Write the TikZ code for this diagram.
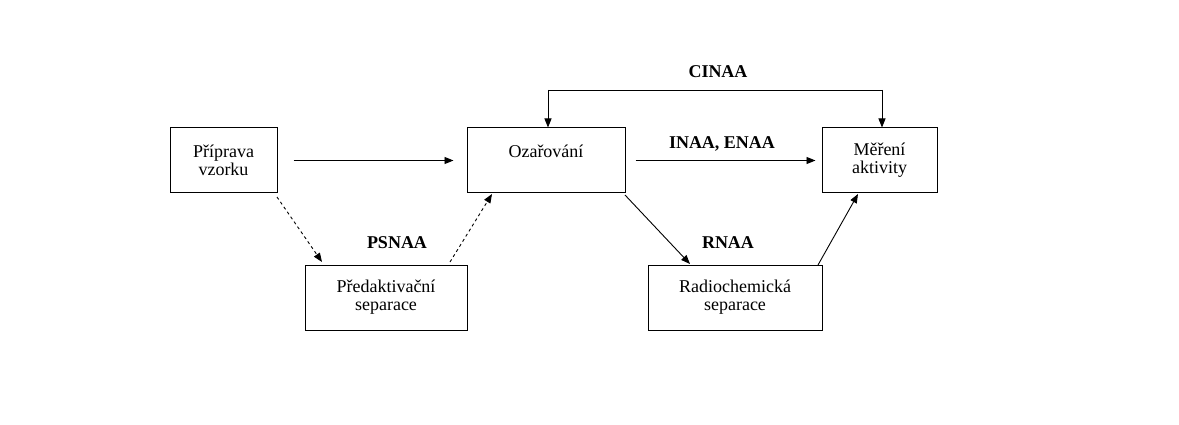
\documentclass[tikz,border=0pt]{standalone}
\usepackage{fontspec}
\setmainfont{Liberation Serif}
\usetikzlibrary{arrows.meta}
\begin{document}
\begin{tikzpicture}[x=1pt,y=-1pt,
  box/.style={draw,line width=1pt,align=center,font=\fontsize{18}{21}\selectfont,inner sep=0pt},
  arr/.style={line width=0.9pt,-{Triangle[length=9pt,width=7pt]}},
  lab/.style={font=\fontsize{18}{21}\selectfont\bfseries}]
\fill[white] (0,0) rectangle (1179,425);
\useasboundingbox (0,0) rectangle (1179,425);
\node[box,minimum width=107pt,minimum height=65pt] (pr) at (223.5,160.5) {Příprava\\[-3pt]vzorku};
\node[box,minimum width=158pt,minimum height=65pt] (oz) at (546,160.5) {Ozařování\\[-3pt]\mbox{}};
\node[box,minimum width=115pt,minimum height=65pt] (me) at (879.5,160.5) {Měření\\[-3pt]aktivity};
\node[box,minimum width=162pt,minimum height=65pt] (pe) at (386,297.5) {Předaktivační\\[-3pt]separace};
\node[box,minimum width=174pt,minimum height=65pt] (ra) at (735,297.5) {Radiochemická\\[-3pt]separace};
\coordinate (c1) at (548,90);
\coordinate (c2) at (882,90);
\draw[arr,shorten <=16pt,shorten >=13pt] (pr.east) -- (oz.west);
\draw[arr,shorten <=10pt,shorten >=6pt] (oz.east) -- (me.west);
\draw[arr] (c1) -- (c1 |- oz.north);
\draw[line width=0.9pt] (c1) -- (c2);
\draw[arr] (c2) -- (c2 |- me.north);
\draw[arr,dashed] (277,197) -- (322,262);
\draw[arr,dashed] (450,262) -- (492,194);
\draw[arr] (625,195) -- (690,264);
\draw[arr] (818,265) -- (858,194);
\node[lab] (ci) at (718,72) {CINAA};
\node[lab] (ie) at (722,144) {INAA, ENAA};
\node[lab] (ps) at (397,243) {PSNAA};
\node[lab] (rn) at (728,243) {RNAA};
\end{tikzpicture}
\end{document}
